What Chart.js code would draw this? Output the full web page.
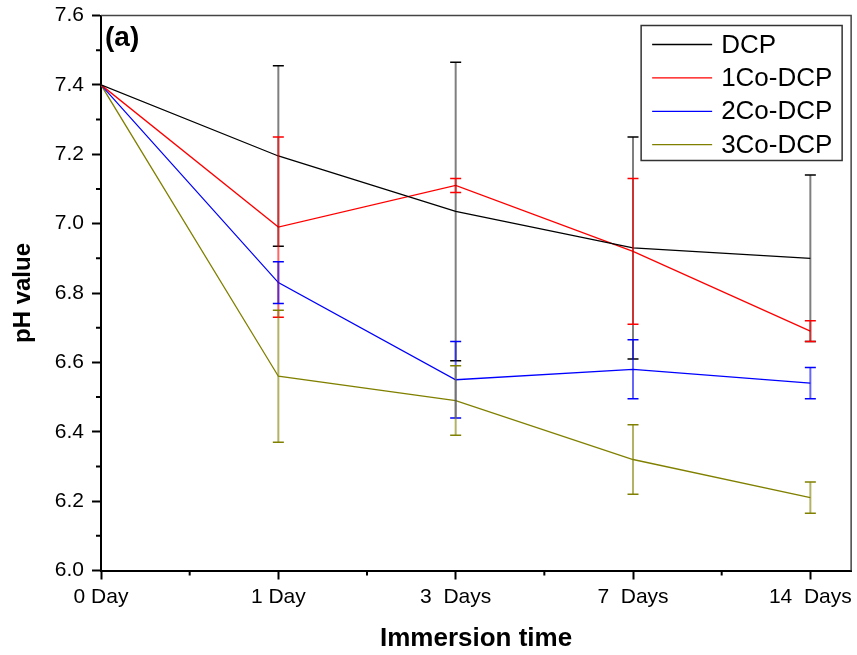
<!DOCTYPE html>
<html>
<head>
<meta charset="utf-8">
<script src="https://cdn.jsdelivr.net/npm/chart.js@4"></script>
<style>
  html, body { margin: 0; padding: 0; background: #fff; }
  #wrap { width: 857px; height: 655px; }
</style>
</head>
<body>
<div id="wrap"><canvas id="phChart"></canvas></div>
<script>
// categories (x positions 0..4)
const days = ['0 Day', '1 Day', '3  Days', '7  Days', '14  Days'];
const seriesNames = ['DCP', '1Co-DCP', '2Co-DCP', '3Co-DCP'];
const seriesColors = ['#000000', '#ff0000', '#0000ff', '#808000'];
const barColors = ['rgba(0,0,0,0.5)', 'rgba(255,0,0,0.6)', 'rgba(0,0,255,0.6)', 'rgba(128,128,0,0.6)'];

// pH values
const dcp = [7.40, 7.195, 7.035, 6.93, 6.90];
const co1 = [7.40, 6.99, 7.11, 6.92, 6.69];
const co2 = [7.40, 6.83, 6.55, 6.58, 6.54];
const co3 = [7.40, 6.56, 6.49, 6.32, 6.21];

// error bar half widths
const dcpErr = [0, 0.26, 0.43, 0.32, 0.24];
const co1Err = [0, 0.26, 0.02, 0.21, 0.03];
const co2Err = [0, 0.06, 0.11, 0.085, 0.045];
const co3Err = [0, 0.19, 0.10, 0.10, 0.045];

const yTicks = [6.0, 6.2, 6.4, 6.6, 6.8, 7.0, 7.2, 7.4, 7.6];

const allValues = [dcp, co1, co2, co3];
const allErrors = [dcpErr, co1Err, co2Err, co3Err];

const FONT = "'Liberation Sans', Arial, sans-serif";

const datasets = allValues.map((vals, i) => ({
  label: seriesNames[i],
  data: vals.map((v, j) => ({ x: j, y: v })),
  errors: allErrors[i],
  borderColor: seriesColors[i],
  backgroundColor: seriesColors[i],
  borderWidth: 1.3,
  pointRadius: 0,
  tension: 0,
  fill: false
}));

// error bars, drawn through the scales
const errorBars = {
  id: 'errorBars',
  afterDatasetsDraw(chart) {
    const ctx = chart.ctx;
    const ys = chart.scales.y;
    chart.data.datasets.forEach((ds, i) => {
      const meta = chart.getDatasetMeta(i);
      ds.data.forEach((pt, j) => {
        const e = ds.errors[j];
        if (!e) return;
        const x = meta.data[j].x;
        const yt = ys.getPixelForValue(pt.y + e);
        const yb = ys.getPixelForValue(pt.y - e);
        ctx.save();
        ctx.strokeStyle = barColors[i];
        ctx.lineWidth = 2;
        ctx.beginPath();
        ctx.moveTo(x, yt); ctx.lineTo(x, yb);
        ctx.stroke();
        ctx.strokeStyle = seriesColors[i];
        ctx.lineWidth = 1.5;
        ctx.beginPath();
        ctx.moveTo(x - 5.5, yt); ctx.lineTo(x + 5.5, yt);
        ctx.moveTo(x - 5.5, yb); ctx.lineTo(x + 5.5, yb);
        ctx.stroke();
        ctx.restore();
      });
    });
  }
};

// frame, minor ticks, panel label and legend box
const decor = {
  id: 'decor',
  afterDraw(chart) {
    const ctx = chart.ctx;
    const a = chart.chartArea;
    const xs = chart.scales.x, ys = chart.scales.y;
    ctx.save();
    // top / right frame
    ctx.strokeStyle = '#444';
    ctx.lineWidth = 1.5;
    ctx.beginPath();
    ctx.moveTo(a.left, a.top);
    ctx.lineTo(a.right, a.top);
    ctx.lineTo(a.right, a.bottom);
    ctx.stroke();

    // minor ticks
    ctx.strokeStyle = '#000';
    ctx.lineWidth = 2;
    ctx.beginPath();
    [0.5, 1.5, 2.5, 3.5].forEach(v => {
      const x = xs.getPixelForValue(v);
      ctx.moveTo(x, a.bottom); ctx.lineTo(x, a.bottom + 5);
    });
    for (let k = 1; k < 16; k += 2) {
      const y = ys.getPixelForValue(6 + k / 10);
      ctx.moveTo(a.left, y); ctx.lineTo(a.left - 5, y);
    }
    ctx.stroke();

    // panel label
    ctx.fillStyle = '#000';
    ctx.font = 'bold 28px ' + FONT;
    ctx.textAlign = 'left';
    ctx.textBaseline = 'alphabetic';
    ctx.fillText('(a)', a.left + 4, a.top + 30);

    // legend
    const right = a.right - 9, top = a.top + 10;
    const w = 201, h = 135;
    ctx.strokeStyle = '#333';
    ctx.lineWidth = 1.5;
    ctx.strokeRect(right - w, top, w, h);
    ctx.font = '26px ' + FONT;
    ctx.textBaseline = 'middle';
    chart.data.datasets.forEach((ds, i) => {
      const y = top + 19 + i * 33.4;
      ctx.strokeStyle = ds.borderColor;
      ctx.lineWidth = 1.3;
      ctx.beginPath();
      ctx.moveTo(right - w + 11, y); ctx.lineTo(right - w + 71, y);
      ctx.stroke();
      ctx.fillStyle = '#000';
      ctx.fillText(ds.label, right - w + 80, y + 1);
    });
    ctx.restore();
  }
};

new Chart(document.getElementById('phChart'), {
  type: 'line',
  data: { datasets: datasets },
  options: {
    responsive: true,
    maintainAspectRatio: false,
    animation: false,
    layout: { padding: { top: 15.5, right: 4, left: 0, bottom: 0 } },
    plugins: {
      legend: { display: false },
      tooltip: { enabled: false }
    },
    scales: {
      x: {
        type: 'linear',
        min: 0,
        max: 4.23,
        afterBuildTicks: scale => {
          scale.ticks = days.map((d, i) => ({ value: i }));
        },
        afterFit: scale => { scale.height = 84.5; },
        ticks: {
          autoSkip: false,
          maxRotation: 0,
          padding: 5,
          color: '#000',
          font: { family: FONT, size: 21 },
          callback: v => days[v]
        },
        grid: {
          drawOnChartArea: false,
          tickLength: 9,
          tickColor: '#000',
          tickWidth: 2
        },
        border: { display: true, color: '#000', width: 2 },
        title: {
          display: true,
          text: 'Immersion time',
          color: '#000',
          font: { family: FONT, size: 26, weight: 'bold' },
          padding: { top: 0, bottom: 1 }
        }
      },
      y: {
        min: 6.0,
        max: 7.6,
        afterBuildTicks: scale => {
          scale.ticks = yTicks.map(v => ({ value: v }));
        },
        afterFit: scale => {
          scale.width = 101;
          scale.paddingTop = 0;
          scale.paddingBottom = 0;
        },
        ticks: {
          padding: 8,
          color: '#000',
          font: { family: FONT, size: 21 },
          callback: v => Number(v).toFixed(1)
        },
        grid: {
          drawOnChartArea: false,
          tickLength: 9,
          tickColor: '#000',
          tickWidth: 2
        },
        border: { display: true, color: '#000', width: 2 },
        title: {
          display: true,
          text: 'pH value',
          color: '#000',
          font: { family: FONT, size: 24, weight: 'bold' },
          padding: { top: 9, bottom: 0 }
        }
      }
    }
  },
  plugins: [errorBars, decor]
});
</script>
</body>
</html>
